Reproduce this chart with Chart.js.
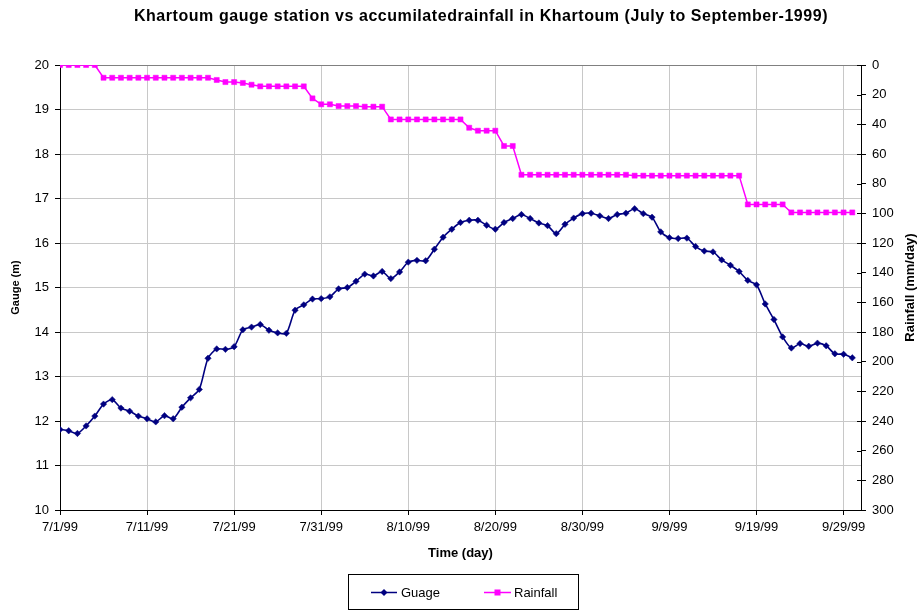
<!DOCTYPE html>
<html>
<head>
<meta charset="utf-8">
<script src="https://cdn.jsdelivr.net/npm/chart.js@4.4.0/dist/chart.umd.min.js"></script>
<style>
  html, body { margin: 0; padding: 0; background: #fff; }
  #wrap { width: 922px; height: 611px; }
</style>
</head>
<body>
<div id="wrap"><canvas id="c" width="922" height="611"></canvas></div>
<script>
// ---- data ----
const chartTitle = 'Khartoum gauge station vs accumilatedrainfall in Khartoum (July to September-1999)';
const tickDays = [0, 10, 20, 30, 40, 50, 60, 70, 80, 90];
const tickLabels = ['7/1/99', '7/11/99', '7/21/99', '7/31/99', '8/10/99', '8/20/99', '8/30/99', '9/9/99', '9/19/99', '9/29/99'];

// daily gauge level (m), 7/1/99 .. 9/30/99
const gauge = [
  11.81, 11.78, 11.72, 11.89, 12.11, 12.38, 12.48, 12.29, 12.22, 12.11,
  12.05, 11.98, 12.12, 12.05, 12.31, 12.52, 12.71, 13.41, 13.62, 13.61,
  13.67, 14.05, 14.11, 14.17, 14.04, 13.98, 13.97, 14.49, 14.61, 14.74,
  14.75, 14.79, 14.97, 15.00, 15.14, 15.30, 15.26, 15.36, 15.20, 15.35,
  15.57, 15.61, 15.60, 15.86, 16.13, 16.31, 16.46, 16.51, 16.51, 16.40,
  16.31, 16.46, 16.55, 16.64, 16.55, 16.45, 16.39, 16.21, 16.42, 16.56,
  16.66, 16.67, 16.61, 16.55, 16.64, 16.67, 16.77, 16.66, 16.58, 16.25,
  16.12, 16.10, 16.11, 15.92, 15.82, 15.80, 15.62, 15.50, 15.36, 15.16,
  15.06, 14.63, 14.28, 13.89, 13.64, 13.74, 13.68, 13.75, 13.69, 13.51,
  13.50, 13.42
];

// accumulated rainfall (mm), 7/1/99 .. 9/30/99
const rainfall = [
  0, 0, 0, 0, 0, 8.6, 8.6, 8.6, 8.6, 8.6,
  8.6, 8.6, 8.6, 8.6, 8.6, 8.6, 8.6, 8.6, 10.1, 11.5,
  11.5, 12.1, 13.3, 14.4, 14.4, 14.4, 14.4, 14.4, 14.4, 22.5,
  26.5, 26.5, 27.7, 27.7, 27.7, 28.1, 28.1, 28.1, 36.7, 36.7,
  36.7, 36.7, 36.7, 36.7, 36.7, 36.7, 36.7, 42.3, 44.3, 44.3,
  44.3, 54.6, 54.6, 74.0, 74.0, 74.0, 74.0, 74.0, 74.0, 74.0,
  74.0, 74.0, 74.0, 74.0, 74.0, 74.0, 74.6, 74.6, 74.6, 74.6,
  74.6, 74.6, 74.6, 74.6, 74.6, 74.6, 74.6, 74.6, 74.6, 94.0,
  94.0, 94.0, 94.0, 94.0, 99.4, 99.4, 99.4, 99.4, 99.4, 99.4,
  99.4, 99.4
];

const FONT = '"Liberation Sans", Arial, sans-serif';
const GAUGE_COLOR = '#000080';
const RAIN_COLOR = '#FF00FF';

const extras = {
  id: 'extras',
  afterDraw(chart) {
    const ctx = chart.ctx;
    const ry = chart.scales.y2;
    const area = chart.chartArea;

    // chart title
    ctx.save();
    ctx.fillStyle = '#000';
    ctx.font = 'bold 16px ' + FONT;
    try { ctx.letterSpacing = '0.55px'; } catch (e) {}
    ctx.textAlign = 'center';
    ctx.textBaseline = 'alphabetic';
    ctx.fillText(chartTitle, 481, 21);
    ctx.restore();

    ctx.save();
    // inward tick marks on right axis
    ctx.strokeStyle = '#000';
    ctx.lineWidth = 1;
    ry.ticks.forEach(t => {
      const y = Math.round(ry.getPixelForValue(t.value)) + 0.5;
      ctx.beginPath();
      ctx.moveTo(area.right - 4, y);
      ctx.lineTo(area.right, y);
      ctx.stroke();
    });
    // right axis title (reads bottom to top)
    ctx.fillStyle = '#000';
    ctx.font = 'bold 13px ' + FONT;
    ctx.textAlign = 'center';
    ctx.textBaseline = 'middle';
    ctx.translate(910, (area.top + area.bottom) / 2);
    ctx.rotate(-Math.PI / 2);
    ctx.fillText('Rainfall (mm/day)', 0, 0);
    ctx.restore();

    // legend
    ctx.save();
    ctx.strokeStyle = '#000';
    ctx.lineWidth = 1;
    ctx.strokeRect(348.5, 574.5, 230, 35);
    const ly = 592.5;
    ctx.strokeStyle = GAUGE_COLOR;
    ctx.lineWidth = 1.5;
    ctx.beginPath(); ctx.moveTo(371, ly); ctx.lineTo(397, ly); ctx.stroke();
    ctx.fillStyle = GAUGE_COLOR;
    ctx.beginPath();
    ctx.moveTo(384, ly - 3.5); ctx.lineTo(387.5, ly); ctx.lineTo(384, ly + 3.5); ctx.lineTo(380.5, ly);
    ctx.closePath(); ctx.fill();
    ctx.strokeStyle = RAIN_COLOR;
    ctx.beginPath(); ctx.moveTo(484, ly); ctx.lineTo(511, ly); ctx.stroke();
    ctx.fillStyle = RAIN_COLOR;
    ctx.fillRect(494.5, ly - 3, 6, 6);
    ctx.fillStyle = '#000';
    ctx.font = '13px ' + FONT;
    ctx.textAlign = 'left';
    ctx.textBaseline = 'middle';
    ctx.fillText('Guage', 401, ly + 0.5);
    ctx.fillText('Rainfall', 514, ly + 0.5);
    ctx.restore();
  }
};

new Chart(document.getElementById('c'), {
  type: 'line',
  data: {
    datasets: [
      {
        label: 'Guage',
        data: gauge.map((v, i) => ({ x: i, y: v })),
        yAxisID: 'y',
        borderColor: GAUGE_COLOR,
        backgroundColor: GAUGE_COLOR,
        borderWidth: 1.6,
        pointStyle: 'rectRot',
        pointRadius: 3.2,
        pointBorderWidth: 0.5,
        tension: 0.25,
        fill: false
      },
      {
        label: 'Rainfall',
        data: rainfall.map((v, i) => ({ x: i, y: v })),
        yAxisID: 'y2',
        borderColor: RAIN_COLOR,
        backgroundColor: RAIN_COLOR,
        borderWidth: 1.5,
        pointStyle: 'rect',
        pointRadius: 3.6,
        pointBorderWidth: 0.5,
        tension: 0,
        fill: false
      }
    ]
  },
  options: {
    responsive: false,
    animation: false,
    events: [],
    layout: { padding: { top: 65, left: 0, right: 0, bottom: 50 } },
    plugins: {
      legend: { display: false },
      tooltip: { enabled: false },
      title: { display: false }
    },
    scales: {
      x: {
        type: 'linear',
        min: 0,
        max: 92,
        afterBuildTicks(scale) { scale.ticks = tickDays.map(v => ({ value: v })); },
        afterFit(scale) { scale.height = 51; },
        ticks: {
          autoSkip: false,
          maxRotation: 0,
          color: '#000',
          padding: 5,
          font: { family: FONT, size: 13 },
          callback: (v) => { const i = tickDays.indexOf(v); return i >= 0 ? tickLabels[i] : ''; }
        },
        grid: { color: '#c8c8c8', lineWidth: 1, tickColor: '#000', tickLength: 5 },
        border: { display: true, color: '#000', width: 1 },
        title: {
          display: true,
          text: 'Time (day)',
          color: '#000',
          font: { family: FONT, size: 13, weight: 'bold' },
          padding: { top: 0, bottom: 0 }
        }
      },
      y: {
        type: 'linear',
        position: 'left',
        min: 10,
        max: 20,
        afterFit(scale) { scale.width = 60; },
        ticks: { stepSize: 1, color: '#000', padding: 6, font: { family: FONT, size: 13 } },
        grid: {
          color: (c) => (c.tick && c.tick.value === 20 ? '#808080' : '#c8c8c8'),
          lineWidth: 1, tickColor: '#000', tickLength: 5
        },
        border: { display: true, color: '#000', width: 1 },
        title: {
          display: true,
          text: 'Gauge (m)',
          color: '#000',
          font: { family: FONT, size: 11, weight: 'bold' },
          padding: { top: 9, bottom: 0 }
        }
      },
      y2: {
        type: 'linear',
        position: 'right',
        reverse: true,
        min: 0,
        max: 300,
        afterFit(scale) { scale.width = 61; },
        ticks: { stepSize: 20, color: '#000', padding: 6, font: { family: FONT, size: 13 } },
        grid: { drawOnChartArea: false, tickColor: '#000', tickLength: 5 },
        border: { display: true, color: '#000', width: 1 }
      }
    }
  },
  plugins: [extras]
});
</script>
</body>
</html>
